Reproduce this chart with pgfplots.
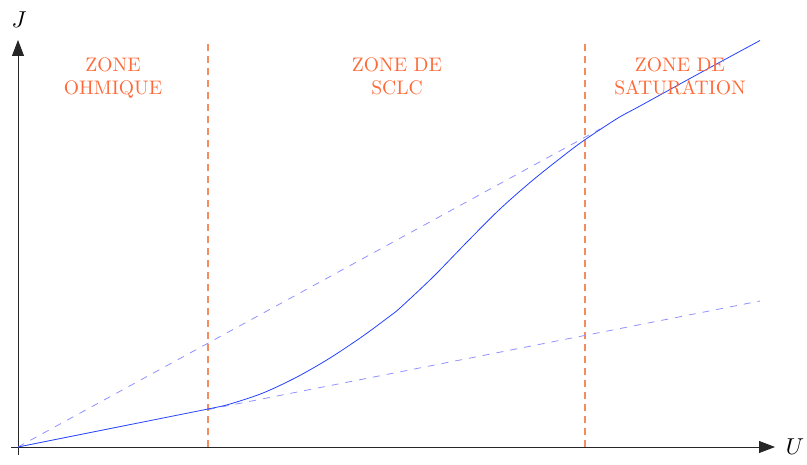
\documentclass[border=0pt]{standalone}
\usepackage{pgfplots}
\pgfplotsset{compat=1.18}
\usetikzlibrary{arrows.meta}
\definecolor{zonetxt}{RGB}{255,105,55}
\definecolor{zoneline}{RGB}{245,140,95}
\definecolor{curveblue}{RGB}{35,65,255}
\definecolor{dashblue}{RGB}{145,145,255}
\begin{document}
\begin{tikzpicture}
\begin{axis}[
  x=1pt, y=1pt,
  xmin=-7, xmax=757, ymin=-8, ymax=407,
  axis lines=middle,
  xtick=\empty, ytick=\empty,
  axis line style={black!85, line width=0.8pt, -{Triangle[length=16pt,width=12pt]}},
  clip=false,
]
\path (axis cs:-18,-17) rectangle (axis cs:789,447);
% zone boundaries
\addplot[zoneline, line width=1.1pt, dash pattern=on 7pt off 5pt] coordinates {(190,0) (190,405)};
\addplot[zoneline, line width=1.1pt, dash pattern=on 7pt off 5pt] coordinates {(567,0) (567,405)};
% asymptotes
\addplot[dashblue, line width=0.8pt, dash pattern=on 7pt off 7pt] coordinates {(0,0) (582,318)};
\addplot[dashblue, line width=0.8pt, dash pattern=on 7pt off 7pt] coordinates {(190,37.4) (742,146)};
% J(U)
\addplot[curveblue, line width=0.8pt, smooth] coordinates {
(0,0) (95,19) (190,38) (212,43) (245,54) (279,70) (312,89) (345,111) (372,131)
(382,139) (415,170) (449,205) (482,238) (515,267) (549,294) (568,308)
(600,329) (622,341) (682,374) (742,406.5)};
% labels
\node[anchor=north, inner sep=0pt, align=center, text=zonetxt, font=\normalsize, scale=1.96] at (axis cs:95,390) {ZONE\\OHMIQUE};
\node[anchor=north, inner sep=0pt, align=center, text=zonetxt, font=\normalsize, scale=1.96] at (axis cs:379,390) {ZONE DE\\SCLC};
\node[anchor=north, inner sep=0pt, align=center, text=zonetxt, font=\normalsize, scale=1.96] at (axis cs:662,390) {ZONE DE\\SATURATION};
\node[inner sep=0pt, scale=2.3] at (axis cs:1,427) {$J$};
\node[inner sep=0pt, scale=2.3] at (axis cs:777,0) {$U$};
\end{axis}
\end{tikzpicture}
\end{document}
